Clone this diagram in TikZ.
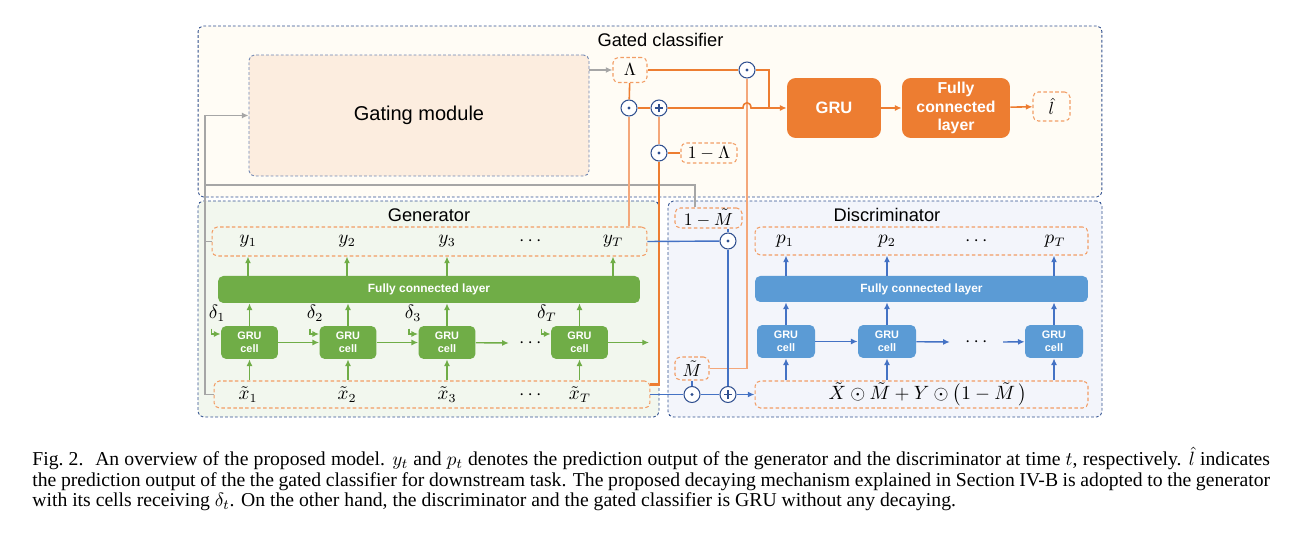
\documentclass[tikz,border=0pt]{standalone}
\usepackage{fontspec}
\setmainfont{Liberation Serif}
\setsansfont{Liberation Sans}
\usepackage{amsmath}
\usepackage{amssymb}
\usetikzlibrary{arrows.meta,calc,positioning}

\definecolor{orangeD}{HTML}{ED7D31}
\definecolor{orangeL}{HTML}{F4A77A}
\definecolor{greenC}{HTML}{70AD47}
\definecolor{blueC}{HTML}{5B9BD5}
\definecolor{blueL}{HTML}{4472C4}
\definecolor{navyD}{HTML}{2F4F8F}
\definecolor{grayL}{HTML}{A6A6A6}
\definecolor{creamF}{HTML}{FFFCF5}
\definecolor{peachF}{HTML}{FCEDDF}
\definecolor{greenF}{HTML}{F2F7EE}
\definecolor{blueF}{HTML}{F3F5FB}

\begin{document}
\begin{tikzpicture}[x=0.02cm,y=-0.02cm,
  group box/.style={draw=navyD,dash pattern=on 1.6pt off 1.2pt,line width=0.5pt,rounded corners=3pt,inner sep=0pt},
  group title/.style={font=\sffamily\fontsize{10.4}{12}\selectfont,inner sep=0pt},
  out box/.style={draw=orangeD!75,dash pattern=on 2pt off 1.4pt,line width=0.6pt,rounded corners=3pt,inner sep=0pt,font=\fontsize{10}{12}\selectfont},
  lbl/.style={font=\fontsize{10.5}{12}\selectfont,inner sep=0pt},
  gru cell/.style={rounded corners=3pt,text=white,font=\sffamily\bfseries\fontsize{6.2}{7.2}\selectfont,align=center,inner sep=0pt,minimum width=1.14cm,minimum height=0.66cm},
  fc bar/.style={rounded corners=3pt,text=white,font=\sffamily\bfseries\fontsize{6.8}{7.8}\selectfont,inner sep=0pt,minimum width=8.44cm,minimum height=0.54cm},
  big block/.style={fill=orangeD,rounded corners=5pt,text=white,font=\sffamily\bfseries\fontsize{9}{10.6}\selectfont,align=center,inner sep=0pt,minimum height=1.2cm},
  odot op/.style={circle,draw=navyD,fill=white,line width=0.6pt,minimum size=0.32cm,inner sep=0pt,
    path picture={\fill[navyD] (path picture bounding box.center) circle (0.9pt);}},
  oplus op/.style={circle,draw=navyD,fill=white,line width=0.6pt,minimum size=0.32cm,inner sep=0pt,
    path picture={\draw[navyD,line width=1.1pt] ([xshift=-2.4pt]path picture bounding box.center) -- ([xshift=2.4pt]path picture bounding box.center)
      ([yshift=-2.4pt]path picture bounding box.center) -- ([yshift=2.4pt]path picture bounding box.center);}},
  arr/.style={-{Latex[length=3.8pt,width=3.4pt]}},
  gwire/.style={draw=greenC,line width=0.8pt},
  bwire/.style={draw=blueL,line width=0.8pt},
  owire/.style={draw=orangeD,line width=0.9pt},
  lowire/.style={draw=orangeL,line width=0.9pt},
  graywire/.style={draw=grayL,line width=0.9pt}]
\useasboundingbox (0,0) rectangle (1306,533);

% group boxes
\node[group box,fill=creamF,minimum width=18.08cm,minimum height=3.42cm] (gcbox) at (650,111.5) {};
\node[group box,fill=greenF,minimum width=9.22cm,minimum height=4.32cm] (genbox) at (428.5,309) {};
\node[group box,fill=blueF,minimum width=8.68cm,minimum height=4.32cm] (disbox) at (885,309) {};
\node[group title] (gctitle) at (660.5,40) {Gated classifier};
\node[group title] (gentitle) at (429,215) {Generator};
\node[group title] (distitle) at (887,215) {Discriminator};

% gated classifier
\node[group box,draw=navyD!70,fill=peachF,minimum width=6.8cm,minimum height=2.42cm,
  font=\sffamily\fontsize{11.4}{13}\selectfont] (gate) at (419,115.5) {Gating module};
\node[out box,minimum width=0.68cm,minimum height=0.5cm] (lam) at (630,70) {$\Lambda$};
\node[out box,minimum width=1.12cm,minimum height=0.4cm] (oml) at (709,153) {$1-\Lambda$};
\node[big block,minimum width=1.88cm,font=\sffamily\bfseries\fontsize{9.4}{11}\selectfont] (gru) at (834,108) {GRU};
\node[big block,minimum width=2.16cm] (cfc) at (956,108) {Fully\\connected\\layer};
\node[out box,minimum width=0.74cm,minimum height=0.58cm] (lhat) at (1051.5,106.5) {$\hat{l}$};
\node[odot op] (od1) at (629,108) {};
\node[oplus op] (pl1) at (659,108) {};
\node[odot op] (od2) at (659,153) {};
\node[odot op] (od3) at (747,70) {};

% generator
\node[out box,minimum width=8.7cm,minimum height=0.58cm] (ybox) at (429.5,241.5) {};
\foreach \n/\x/\t in {y1/248/y_1,y2/347/y_2,y3/447/y_3,yT/613/y_T}
  \node[lbl] (\n) at (\x,241) {$\t$};
\node[lbl] (ydots) at (532,241) {$\cdots$};
\node[fc bar,fill=greenC] (gfc) at (429,289.5) {Fully connected layer};
\foreach \n/\x in {g1/249.5,g2/348,g3/447,g4/579.5}
  \node[gru cell,fill=greenC] (\n) at (\x,342.5) {GRU\\cell};
\foreach \i/\x in {1/217,2/315,3/413,T/547}
  \node[lbl] (del\i) at (\x,313) {$\delta_{\i}$};
\node[lbl] (gdots) at (532,343) {$\cdots$};
\coordinate (gend) at (649,342.5);
\node[out box,minimum width=8.72cm,minimum height=0.54cm] (xbox) at (432,394.5) {};
\foreach \n/\x/\t in {x1/248/\tilde{x}_1,x2/347/\tilde{x}_2,x3/447/\tilde{x}_3,xT/580/\tilde{x}_T}
  \node[lbl] (\n) at (\x,395) {$\t$};
\node[lbl] (xdots) at (532,395) {$\cdots$};

% discriminator
\node[out box,minimum width=1.34cm,minimum height=0.4cm] (omm) at (708.5,218) {$1-\tilde{M}$};
\node[out box,minimum width=0.68cm,minimum height=0.46cm] (mt) at (692,368.5) {$\tilde{M}$};
\node[out box,minimum width=6.66cm,minimum height=0.56cm] (pbox) at (921.5,241) {};
\foreach \n/\x/\t in {p1/785/p_1,p2/887/p_2,pT/1055/p_T}
  \node[lbl] (\n) at (\x,241) {$\t$};
\node[lbl] (pdots) at (978,241) {$\cdots$};
\node[fc bar,fill=blueC,minimum width=6.66cm,minimum height=0.52cm] (bfc) at (921.5,289) {Fully connected layer};
\foreach \n/\x in {dc1/786,dc2/887,dc3/1054}
  \node[gru cell,fill=blueC,minimum width=1.16cm] (\n) at (\x,341.5) {GRU\\cell};
\node[lbl] (bdots) at (978,342) {$\cdots$};
\node[out box,minimum width=6.66cm,minimum height=0.54cm,font=\fontsize{10.5}{12}\selectfont] (din) at (921.5,394.5)
  {\hspace{0.25cm}$\tilde{X}\odot\tilde{M}+Y\odot\bigl(1-\tilde{M}\,\bigr)$};
\node[odot op] (od4) at (728,241) {};
\node[odot op] (od5) at (692,394.5) {};
\node[oplus op] (pl2) at (728,394.5) {};

% gray inputs to the gating module
\coordinate (bus) at (205,185);
\draw[graywire,arr] (xbox.west) -| (bus) |- (gate.west);
\draw[graywire] (ybox.west) -- (ybox.west -| bus);
\draw[graywire] (bus) -| ([xshift=-0.27cm]omm.north);
\draw[graywire,arr] (gate.east |- lam) -- (lam);

% orange wires
\coordinate (hop) at (747,108);
\coordinate (joint) at (769,108);
\draw[lowire] (od1) -- (ybox.north -| od1);
\draw[lowire] (od3) |- (mt.east);
\draw[owire] (lam) -- (od1);
\draw[owire] (od1) -- (pl1);
\draw[owire,arr] (pl1) -- ($(hop)+(-4,0)$) .. controls +(0,-7) and +(0,-7) .. ($(hop)+(4,0)$) -- (gru.west);
\draw[owire] (lam) -- (od3);
\draw[owire] (od3) -| (joint);
\draw[lowire] (pl1) -- (od2);
\draw[owire] (oml) -- (od2);
\draw[owire,line width=1.3pt] (od2) |- ([yshift=-0.08cm]xbox.north east);
\draw[owire,arr] (gru) -- (cfc);
\draw[owire,arr] (cfc) -- (lhat);

% generator wires
\foreach \n in {g1,g2,g3,g4} {
  \draw[gwire,arr] (xbox.north -| \n) -- (\n.south);
  \draw[gwire,arr] (\n.north) -- (gfc.south -| \n);
  \draw[gwire,arr] ([shift={(-0.18cm,0.28cm)}]\n.west) |- ([yshift=0.17cm]\n.west);
}
\foreach \n in {y1,y2,y3,yT}
  \draw[gwire,arr] (gfc.north -| \n) -- (ybox.south -| \n);
\draw[gwire,arr] (g1) -- (g2);
\draw[gwire,arr] (g2) -- (g3);
\draw[gwire,arr] (g3) -- ([xshift=-0.2cm]gdots.west);
\draw[gwire,arr] (g4) -- (gend);

% discriminator wires
\draw[bwire] (ybox.east) -- (od4);
\draw[bwire] (omm.south -| od4) -- (od4);
\draw[bwire] (od4) -- (pl2);
\draw[bwire] (xbox.east) -- (od5);
\draw[bwire] (mt) -- (od5);
\draw[bwire] (od5) -- (pl2);
\draw[bwire,arr] (pl2) -- (din.west);
\foreach \n in {dc1,dc2,dc3} {
  \draw[bwire,arr] (din.north -| \n) -- (\n.south);
  \draw[bwire,arr] (\n.north) -- (bfc.south -| \n);
  \draw[bwire,arr] (bfc.north -| \n) -- (pbox.south -| \n);
}
\draw[bwire,arr] (dc1) -- (dc2);
\draw[bwire,arr] (dc2) -- ([xshift=-0.3cm]bdots.west);
\draw[bwire,arr] ([xshift=0.24cm]bdots.east) -- (dc3);

% caption
\node[anchor=north west,inner sep=0pt,text width=24.76cm,align=justify,
  font=\rmfamily\fontsize{11.2}{11.6}\selectfont] (caption) at (32,447)
  {Fig.~2.\hspace{0.6em}An overview of the proposed model. $y_t$ and $p_t$ denotes the prediction output of the generator and the discriminator at time $t$, respectively. $\hat{l}$ indicates\linebreak
  the prediction output of the the gated classifier for downstream task. The proposed decaying mechanism explained in Section IV-B is adopted to the generator\linebreak
  with its cells receiving $\delta_t$. On the other hand, the discriminator and the gated classifier is GRU without any decaying.};
\end{tikzpicture}
\end{document}
